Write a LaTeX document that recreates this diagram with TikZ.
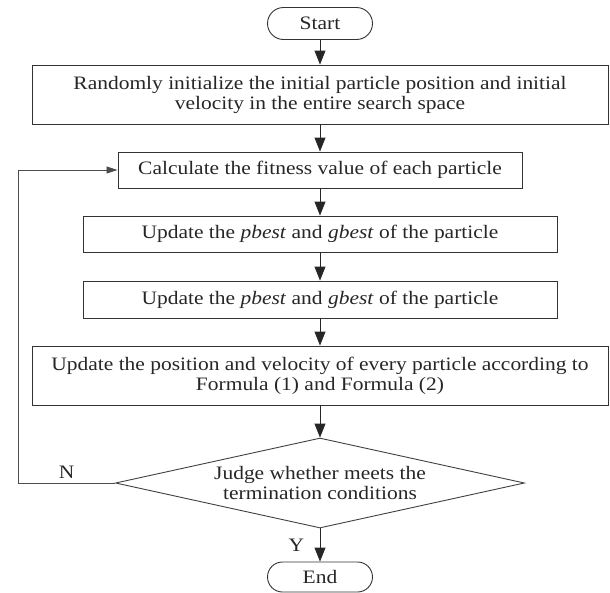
\documentclass[tikz,border=0pt]{standalone}
\usepackage{fontspec}
\setmainfont[FakeStretch=1.13]{Liberation Serif}
\usetikzlibrary{arrows.meta,shapes.geometric}

\begin{document}
\begin{tikzpicture}[x=1pt,y=-1pt,font=\fontsize{19}{20}\selectfont,
	box/.style={draw=black!80,line width=0.9pt,text=black!85,align=center,inner sep=0pt},
	term/.style={box,rounded corners=16pt,minimum width=105pt,minimum height=32pt},
	flow/.style={draw=black!85,line width=0.9pt,-{Triangle[length=14pt,width=11pt]}}]
	\useasboundingbox (0,0) rectangle (610,592);
	\node[term] (start) at (320,23.5) {Start};
	\node[box,minimum width=576pt,minimum height=59pt] (init) at (320,94.5) {Randomly initialize the initial particle position and initial\\velocity in the entire search space};
	\node[box,minimum width=404pt,minimum height=36pt] (fit) at (320,170) {Calculate the fitness value of each particle};
	\node[box,minimum width=474pt,minimum height=36pt] (upd1) at (320,234) {Update the \textit{pbest} and \textit{gbest} of the particle};
	\node[box,minimum width=474pt,minimum height=37pt] (upd2) at (320,299.5) {Update the \textit{pbest} and \textit{gbest} of the particle};
	\node[box,minimum width=576pt,minimum height=59pt] (move) at (320,375.5) {Update the position and velocity of every particle according to\\Formula (1) and Formula (2)};
	\node[box,diamond,aspect=4.5,draw=black!75,minimum width=409pt,minimum height=90pt] (judge) at (320,483) {Judge whether meets the\\termination conditions};
	\node[term,minimum height=30pt,rounded corners=15pt] (end) at (320,577) {End};
	\coordinate (loop) at (18,483);
	\draw[flow] (start) -- (init);
	\draw[flow] (init) -- (fit);
	\draw[flow] (fit) -- (upd1);
	\draw[flow] (upd1) -- (upd2);
	\draw[flow] (upd2) -- (move);
	\draw[flow] (move) -- (judge);
	\draw[flow] (judge) -- node[left=12pt,text=black!85] (ylab) {Y} (end);
	\draw[draw=black!70,line width=0.8pt,-{Triangle[length=11pt,width=7pt]}] (judge.west) -- node[above=4pt,inner sep=0pt,text=black!85] (nlab) {N} (loop) |- (fit.west);
\end{tikzpicture}
\end{document}
